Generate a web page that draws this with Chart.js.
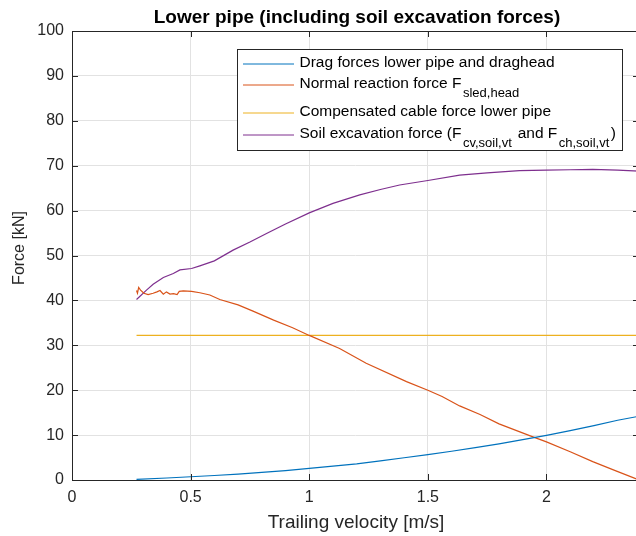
<!DOCTYPE html>
<html lang="en">
<head>
<meta charset="UTF-8">
<title>Lower pipe</title>
<style>
  html, body { margin: 0; padding: 0; overflow: hidden; background: #fff; }
</style>
</head>
<body>
<canvas id="myChart" width="640" height="536"></canvas>

<script src="https://cdn.jsdelivr.net/npm/chart.js"></script>
<script>
    // values
    const dragV = [0.272, 0.4, 0.5, 0.6, 0.7, 0.8, 0.9, 1.0, 1.1, 1.2, 1.3, 1.4, 1.5, 1.6, 1.7, 1.8, 1.9, 2.0, 2.1, 2.2, 2.3, 2.39];
    const dragF = [0.15, 0.45, 0.72, 1.0, 1.3, 1.7, 2.1, 2.6, 3.1, 3.6, 4.25, 4.95, 5.65, 6.4, 7.2, 8.05, 9.0, 9.95, 11.0, 12.1, 13.3, 14.2];

    const normalV = [0.272, 0.276, 0.281, 0.289, 0.303, 0.321, 0.342, 0.358, 0.371, 0.385, 0.398, 0.413, 0.428, 0.443, 0.452, 0.469, 0.504, 0.539, 0.581, 0.623, 0.7, 0.763, 0.85, 0.93, 1.0, 1.128, 1.24, 1.41, 1.5, 1.56, 1.634, 1.72, 1.8, 1.94, 2.0, 2.1, 2.195, 2.29, 2.39];
    const normalF = [42.2, 41.6, 42.9, 42.3, 41.6, 41.3, 41.6, 41.9, 42.2, 41.4, 41.9, 41.4, 41.5, 41.3, 42.0, 42.1, 42.0, 41.7, 41.2, 40.2, 39.0, 37.6, 35.6, 33.9, 32.2, 29.3, 26.0, 21.9, 20.0, 18.6, 16.5, 14.6, 12.5, 9.65, 8.5, 6.3, 4.1, 2.1, 0.0];

    const cableV = [0.272, 2.39];
    const cableF = [32.2, 32.2];

    const soilV = [0.272, 0.314, 0.342, 0.385, 0.427, 0.455, 0.504, 0.539, 0.6, 0.679, 0.75, 0.82, 0.9, 1.0, 1.1, 1.213, 1.3, 1.381, 1.5, 1.634, 1.75, 1.886, 2.0, 2.1, 2.195, 2.3, 2.39];
    const soilF = [40.2, 42.3, 43.6, 45.1, 46.0, 46.8, 47.1, 47.7, 48.8, 51.2, 53.0, 54.9, 57.0, 59.5, 61.6, 63.5, 64.7, 65.7, 66.7, 67.9, 68.4, 68.9, 69.0, 69.1, 69.2, 69.0, 68.8];

    const xTicks = [0, 0.5, 1, 1.5, 2];
    const yTicks = [0, 10, 20, 30, 40, 50, 60, 70, 80, 90, 100];

    const FONT = "'Liberation Sans', Arial, Helvetica, sans-serif";
    const AXC = "#262626";

    function pts(xs, ys) {
        let out = [];
        for (let i = 0; i < xs.length; i++) out.push({ x: xs[i], y: ys[i] });
        return out;
    }

    // legend rows: [text, isSubscript]
    const legendRows = [
        { color: "#0072BD", parts: [["Drag forces lower pipe and draghead", 0]] },
        { color: "#D95319", parts: [["Normal reaction force F", 0], ["sled,head", 1]] },
        { color: "#EDB120", parts: [["Compensated cable force lower pipe", 0]] },
        { color: "#7E2F8E", parts: [["Soil excavation force (F", 0], ["cv,soil,vt", 1], [" and F", 0], ["ch,soil,vt", 1], [")", 0]] }
    ];

    const matlabLook = {
        id: "matlabLook",
        afterDraw(chart) {
            const ctx = chart.ctx;
            const a = chart.chartArea;
            const sx = chart.scales.x, sy = chart.scales.y;
            ctx.save();
            ctx.strokeStyle = AXC;
            ctx.lineWidth = 1;

            // axes box
            ctx.strokeRect(Math.round(a.left) + 0.5, Math.round(a.top) + 0.5,
                Math.round(a.right - a.left), Math.round(a.bottom - a.top));

            // ticks pointing inward, on all four sides
            const tl = 6;
            ctx.beginPath();
            xTicks.forEach(t => {
                const px = Math.round(sx.getPixelForValue(t)) + 0.5;
                ctx.moveTo(px, a.bottom); ctx.lineTo(px, a.bottom - tl);
                ctx.moveTo(px, a.top); ctx.lineTo(px, a.top + tl);
            });
            yTicks.forEach(t => {
                const py = Math.round(sy.getPixelForValue(t)) + 0.5;
                ctx.moveTo(a.left, py); ctx.lineTo(a.left + tl, py);
                ctx.moveTo(a.right, py); ctx.lineTo(a.right - tl, py);
            });
            ctx.stroke();

            // titles
            ctx.fillStyle = "#000";
            ctx.textAlign = "center";
            ctx.textBaseline = "middle";
            ctx.font = "bold 19px " + FONT;
            ctx.fillText("Lower pipe (including soil excavation forces)", 357, 18);
            ctx.fillStyle = AXC;
            ctx.font = "19px " + FONT;
            ctx.fillText("Trailing velocity [m/s]", 356, 523);
            ctx.save();
            ctx.translate(20, 248);
            ctx.rotate(-Math.PI / 2);
            ctx.font = "16px " + FONT;
            ctx.fillText("Force [kN]", 0, 0);
            ctx.restore();

            // legend
            const bx = 237.5, by = 49.5, bw = 385, bh = 101;
            ctx.fillStyle = "#fff";
            ctx.fillRect(bx, by, bw, bh);
            ctx.strokeStyle = AXC;
            ctx.strokeRect(bx, by, bw, bh);
            const rowY = [63, 84, 111.5, 134];
            ctx.textAlign = "left";
            legendRows.forEach((row, i) => {
                const y = rowY[i];
                ctx.strokeStyle = row.color;
                ctx.lineWidth = 1;
                ctx.beginPath();
                ctx.moveTo(243, Math.round(y) + 1);
                ctx.lineTo(294, Math.round(y) + 1);
                ctx.stroke();
                let x = 299.5;
                ctx.fillStyle = "#000";
                row.parts.forEach(p => {
                    if (p[1]) {
                        x += 1.5;
                        ctx.font = "13px " + FONT;
                        ctx.fillText(p[0], x, y + 9);
                        x += ctx.measureText(p[0]).width + 1.5;
                    } else {
                        ctx.font = "15.5px " + FONT;
                        ctx.fillText(p[0], x, y);
                        x += ctx.measureText(p[0]).width;
                    }
                });
            });
            ctx.restore();
        }
    };

    const ctx = document.getElementById("myChart");

    new Chart(ctx, {
        type: "scatter",
        data: {
            datasets: [
                { label: "Drag forces lower pipe and draghead", data: pts(dragV, dragF), borderColor: "#0072BD" },
                { label: "Normal reaction force F sled,head", data: pts(normalV, normalF), borderColor: "#D95319" },
                { label: "Compensated cable force lower pipe", data: pts(cableV, cableF), borderColor: "#EDB120" },
                { label: "Soil excavation force", data: pts(soilV, soilF), borderColor: "#7E2F8E" }
            ].map(d => Object.assign(d, {
                showLine: true, pointRadius: 0, borderWidth: 1.2, tension: 0, backgroundColor: d.borderColor
            }))
        },
        options: {
            responsive: false,
            animation: false,
            layout: { padding: { left: 0, top: 31, right: 1, bottom: 0 } },
            plugins: {
                legend: { display: false },
                title: { display: false },
                tooltip: { enabled: false }
            },
            scales: {
                x: {
                    type: "linear",
                    min: 0,
                    max: 2.39,
                    afterBuildTicks: s => { s.ticks = xTicks.map(v => ({ value: v })); },
                    afterFit: s => { s.height = 56; },
                    grid: { color: "#e2e2e2", drawTicks: false },
                    border: { display: false },
                    ticks: {
                        color: AXC, padding: 8, maxRotation: 0,
                        font: { size: 16, family: FONT },
                        callback: v => String(v)
                    }
                },
                y: {
                    min: 0,
                    max: 100,
                    afterBuildTicks: s => { s.ticks = yTicks.map(v => ({ value: v })); },
                    afterFit: s => { s.width = 72; },
                    grid: { color: "#e2e2e2", drawTicks: false },
                    border: { display: false },
                    ticks: { color: AXC, padding: 8, font: { size: 16, family: FONT } }
                }
            }
        },
        plugins: [matlabLook]
    });
</script>
</body>
</html>
